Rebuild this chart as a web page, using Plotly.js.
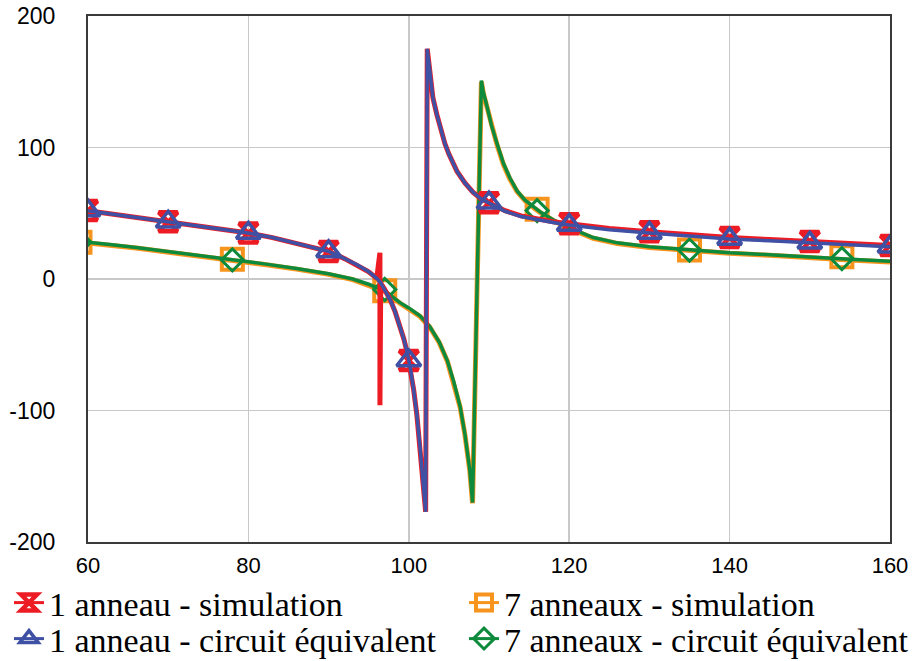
<!DOCTYPE html>
<html>
<head>
<meta charset="utf-8">
<script src="https://cdn.plot.ly/plotly-3.0.1.min.js"></script>
<style>html,body{margin:0;padding:0;background:#fff;}#chart{width:914px;height:661px;}</style>
</head>
<body>
<div id="chart"></div>
<script>
// ---- Data: 1 anneau (simulation) dense curve ----
var sim1X = [60, 63, 66, 70, 74, 78, 80, 83, 86, 88, 90, 92, 93.5, 95, 96, 96.4, 96.4, 96.5, 97, 97.7, 98.3, 98.9, 99.4, 99.8, 100, 100.2, 100.6, 101, 101.4, 101.8, 102.1, 102.3, 102.45, 102.7, 103, 103.5, 104, 104.5, 105, 106, 107, 108, 109, 110, 112, 114, 116, 118, 120, 125, 130, 135, 140, 145, 150, 155, 160];
var sim1Y = [52, 49.5, 47, 43.5, 40, 36.5, 35, 31.5, 27, 24.5, 21, 15.5, 11, 5.5, 0.5, 20, -96, -3, -8, -16, -25, -36, -46, -56, -62, -68, -84, -103, -128, -155, -177, 175, 166, 150, 138, 125, 113, 103, 95, 82, 73, 66, 61, 58, 52, 48, 45.5, 43.5, 42, 38.5, 36, 33.5, 31.5, 30, 28.5, 27, 25.5];
// ---- 1 anneau (circuit équivalent) dense curve ----
var eq1X = [60, 63, 66, 70, 74, 78, 80, 83, 86, 88, 90, 92, 93.5, 95, 96, 96.5, 97, 97.7, 98.3, 98.9, 99.4, 99.8, 100, 100.2, 100.6, 101, 101.4, 101.8, 102.1, 102.3, 102.45, 102.7, 103, 103.5, 104, 104.5, 105, 106, 107, 108, 109, 110, 112, 114, 116, 118, 120, 125, 130, 135, 140, 145, 150, 155, 160];
var eq1Y = [52, 49.5, 47, 43.5, 40, 36.5, 35, 31.5, 27, 24.5, 21, 15.5, 11, 5.5, 0.5, -3, -8, -16, -25, -36, -46, -56, -62, -68, -84, -103, -128, -155, -177, 175, 166, 150, 138, 125, 113, 103, 95, 82, 73, 66, 61, 58, 51.5, 47.5, 45, 43, 41, 37.5, 35, 32.5, 30.5, 29, 27.5, 26, 24.5];
// ---- 7 anneaux (simulation) dense curve ----
var sim7X = [59, 60, 63, 66, 70, 74, 78, 82, 86, 90, 93, 95, 97, 98.9, 100, 101.4, 102.6, 103.8, 104.8, 105.6, 106.4, 107, 107.6, 107.95, 109.05, 109.3, 109.8, 110.3, 111, 111.8, 112.6, 113.5, 114.5, 115.5, 116.5, 118, 120, 123, 126, 130, 135, 140, 145, 150, 155, 160];
var sim7Y = [28, 27.5, 25.5, 23.5, 20.5, 17.5, 14, 11, 7.5, 3.5, -0.5, -4.5, -9.5, -18.5, -22.5, -28.5, -36.5, -48.5, -62.5, -78.5, -97.5, -118.5, -145.5, -170.5, 150, 141, 129, 116, 102, 87, 76, 66.5, 59.5, 54.5, 50, 44.5, 38.5, 31, 27, 24, 21.5, 19.5, 18, 16, 14.5, 13];
// ---- 7 anneaux (circuit équivalent) dense curve ----
var eq7X = [59, 60, 63, 66, 70, 74, 78, 82, 86, 90, 93, 95, 97, 98.9, 100, 101.4, 102.6, 103.8, 104.8, 105.6, 106.4, 107, 107.6, 107.95, 109.05, 109.3, 109.8, 110.3, 111, 111.8, 112.6, 113.5, 114.5, 115.5, 116.5, 118, 120, 123, 126, 130, 135, 140, 145, 150, 155, 160];
var eq7Y = [28.5, 28, 26, 24, 21, 18, 14.5, 11.5, 8, 4, 0, -4, -9, -18, -22, -28, -36, -48, -62, -78, -97, -118, -145, -170, 151, 142, 130, 117, 103, 88, 77, 67, 60, 55, 50.5, 45, 39, 31.5, 27.5, 24.5, 22, 20, 18.5, 16.5, 15, 13.5];

// ---- Marker points ----
var sim1MarkX = [60, 70, 80, 90, 100, 110, 120, 130, 140, 150, 160];
var sim1MarkY = [52, 43.5, 35, 21, -62, 58, 42, 36, 31.5, 28.5, 25.5];
var eq1MarkX = [60, 70, 80, 90, 100, 110, 120, 130, 140, 150, 160];
var eq1MarkY = [52, 43.5, 35, 21, -62, 58, 41, 35, 30.5, 27.5, 24.5];
var sim7MarkX = [59, 78, 97, 116, 135, 154];
var sim7MarkY = [28, 15, -9, 53, 22, 17];
var eq7MarkX = [59, 78, 97, 116, 135, 154];
var eq7MarkY = [28, 14.5, -8, 52, 22, 15.5];

// ---- Tick labels ----
var xTicks = [60, 80, 100, 120, 140, 160];
var xTickText = ['60', '80', '100', '120', '140', '160'];
var yTicks = [-200, -100, 0, 100, 200];
var yTickText = ['-200', '-100', '0', '100', '200'];

var names = ['1 anneau - simulation', '7 anneaux - simulation', '1 anneau - circuit équivalent', '7 anneaux - circuit équivalent'];
var colors = ['#ED1C24', '#F7941D', '#3F51A5', '#0E8A3C'];

function gapped(arr) {
  var out = [];
  for (var i = 0; i < arr.length; i++) { if (i) out.push(null); out.push(arr[i]); }
  return out;
}

function series(x, y, mx, my, name, color, lw, symbol, msize, mlw, legendId) {
  return [
    {x: x, y: y, type: 'scatter', mode: 'lines', showlegend: false, legendgroup: name,
     line: {color: color, width: lw}, hoverinfo: 'skip'},
    {x: gapped(mx), y: gapped(my), type: 'scatter', mode: 'lines+markers', name: name,
     legend: legendId, legendgroup: name, connectgaps: false,
     line: {color: color, width: 3},
     marker: {symbol: symbol, size: msize, color: color, line: {color: color, width: mlw}}}
  ];
}

var data = [].concat(
  series(sim7X, sim7Y, sim7MarkX, sim7MarkY, names[1], colors[1], 5, 'square-open', 21, 4, 'legend2'),
  series(eq7X, eq7Y, eq7MarkX, eq7MarkY, names[3], colors[3], 3.5, 'diamond-open', 17, 3, 'legend4'),
  series(sim1X, sim1Y, sim1MarkX, sim1MarkY, names[0], colors[0], 5, 'hourglass-open', 19, 4.5, 'legend'),
  series(eq1X, eq1Y, eq1MarkX, eq1MarkY, names[2], colors[2], 3.5, 'triangle-up-open', 21, 3.5, 'legend3')
);

var legendFont = {family: 'Liberation Serif', size: 34, color: '#000'};
function legendAt(xPx, yCenterPx) {
  return {
    orientation: 'v', xref: 'container', x: xPx / 914, xanchor: 'left',
    yref: 'container', y: 1 - yCenterPx / 661, yanchor: 'middle',
    font: legendFont, bgcolor: 'rgba(0,0,0,0)', itemwidth: 30, tracegroupgap: 0
  };
}

var layout = {
  width: 914, height: 661,
  margin: {l: 88, r: 24, t: 16, b: 119, autoexpand: false},
  paper_bgcolor: '#fff', plot_bgcolor: '#fff',
  font: {family: 'Liberation Serif', size: 26, color: '#000'},
  showlegend: true,
  xaxis: {
    range: [60, 160], tickmode: 'array', tickvals: xTicks, ticktext: xTickText,
    showgrid: true, gridcolor: '#C8C8C8', gridwidth: 1.5,
    showline: true, mirror: true, linecolor: '#3a3a3a', linewidth: 2,
    zeroline: false, ticks: '', ticklabelstandoff: 3,
    tickfont: {family: 'Liberation Sans', size: 22, color: '#000'}
  },
  yaxis: {
    range: [-200, 200], tickmode: 'array', tickvals: yTicks, ticktext: yTickText,
    showgrid: true, gridcolor: '#C8C8C8', gridwidth: 1.5,
    showline: true, mirror: true, linecolor: '#3a3a3a', linewidth: 2,
    zeroline: false, ticks: '', ticklabelstandoff: 26,
    tickfont: {family: 'Liberation Sans', size: 23, color: '#000'}
  },
  legend: legendAt(9, 603),
  legend2: legendAt(464, 603),
  legend3: legendAt(9, 639),
  legend4: legendAt(464, 639)
};

Plotly.newPlot('chart', data, layout, {displayModeBar: false, staticPlot: true});
</script>
</body>
</html>
